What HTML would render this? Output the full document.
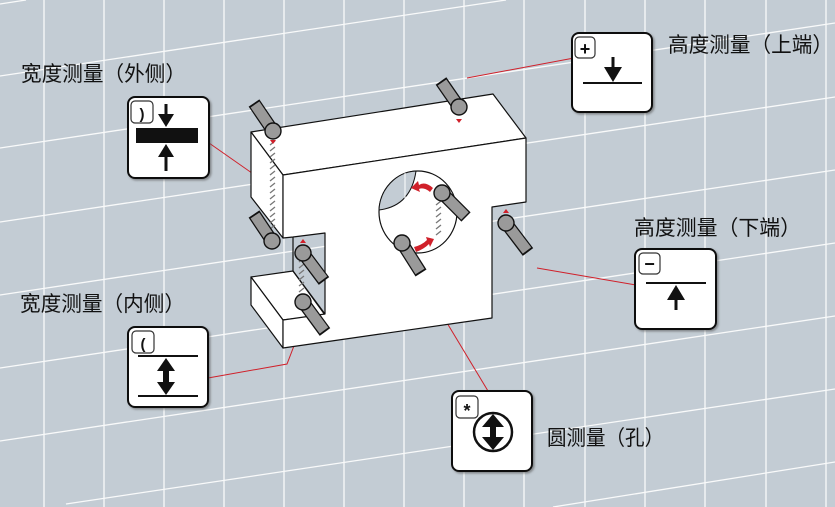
<!DOCTYPE html>
<html><head><meta charset="utf-8"><style>
html,body{margin:0;padding:0;background:#c3ccd4;width:835px;height:507px;overflow:hidden;position:relative;}
svg{display:block;position:absolute;left:0;top:0;overflow:hidden;width:835px;height:507px;}
text{font-family:"Liberation Sans","Noto Sans CJK SC",sans-serif;fill:#111;}
</style></head><body>
<svg width="835" height="507" viewBox="0 0 835 507" xmlns="http://www.w3.org/2000/svg">
<defs>
<filter id="sh" x="-5%" y="-5%" width="115%" height="115%"><feDropShadow dx="1.5" dy="1.5" stdDeviation="1" flood-color="#555" flood-opacity="0.6"/></filter>
</defs>
<rect width="835" height="507" fill="#c3ccd4"/>
<g stroke="#fff" stroke-width="1.3" opacity="0.9">
<line x1="44" y1="0" x2="44" y2="507"/><line x1="104" y1="0" x2="104" y2="507"/>
<line x1="164" y1="0" x2="164" y2="507"/><line x1="224" y1="0" x2="224" y2="507"/>
<line x1="284" y1="0" x2="284" y2="507"/><line x1="344" y1="0" x2="344" y2="507"/>
<line x1="404" y1="0" x2="404" y2="507"/><line x1="464" y1="0" x2="464" y2="507"/>
<line x1="524" y1="0" x2="524" y2="507"/><line x1="585" y1="0" x2="585" y2="507"/>
<line x1="645" y1="0" x2="645" y2="507"/><line x1="705" y1="0" x2="705" y2="507"/>
<line x1="766" y1="0" x2="766" y2="507"/><line x1="826" y1="0" x2="826" y2="507"/>
<line x1="0" y1="4" x2="26" y2="0"/><line x1="0" y1="76" x2="506" y2="0"/>
<line x1="0" y1="148" x2="835" y2="23"/><line x1="0" y1="222" x2="835" y2="97"/>
<line x1="0" y1="295" x2="835" y2="170"/><line x1="0" y1="368" x2="835" y2="243"/>
<line x1="0" y1="441" x2="835" y2="316"/><line x1="66" y1="504" x2="835" y2="389"/>
<line x1="553" y1="507" x2="835" y2="462"/>
</g>

<g stroke="#d0202a" stroke-width="1" fill="none">
<line x1="467" y1="78" x2="574" y2="58"/>
<line x1="209" y1="143" x2="259" y2="178"/>
<line x1="537" y1="268" x2="636" y2="285"/>
<polyline points="208,378 287,364 297,338"/>
<line x1="432" y1="298" x2="488" y2="391"/>
</g>

<g fill="#fff" stroke="#111" stroke-width="1.2" stroke-linejoin="round">
<polygon points="251,132 493,94 526,138 283,175"/>
<polygon points="251,132 283,175 283,238 251,197"/>
<polygon points="251,277 293,271 325,315 283,320"/>
<polygon points="251,277 283,320 283,348 251,305"/>
<polygon points="283,175 526,138 526,202 492,207 492,318 283,348 283,320 325,314 325,233 293,237 283,238"/>
<line x1="293" y1="237" x2="293" y2="271"/>
<line x1="293" y1="271" x2="325" y2="314"/>
</g>
<ellipse cx="418" cy="212" rx="39" ry="41" fill="#fff" stroke="#111" stroke-width="1.2"/>
<path d="M379,210 Q411,206 416,171 A39,41 0 0 0 379,210 Z" fill="#c3ccd4" stroke="#111" stroke-width="1"/>
<line x1="405" y1="173" x2="405" y2="200" stroke="#fff" stroke-width="1"/>

<g stroke="#777" stroke-width="1.3">
<path d="M270,145 l5,-4 M270,151 l5,-4 M270,157 l5,-4 M270,163 l5,-4 M270,169 l5,-4 M270,175 l5,-4 M270,181 l5,-4 M270,187 l5,-4 M270,193 l5,-4 M270,199 l5,-4 M270,205 l5,-4 M270,211 l5,-4 M270,217 l5,-4 M270,223 l5,-4 M270,229 l5,-4"/>
<path d="M299,262 l5,-4 M299,268 l5,-4 M299,274 l5,-4 M299,280 l5,-4 M299,286 l5,-4 M299,292 l5,-4 M299,298 l5,-4"/>
<path d="M436,205 l5,-4 M436,211 l5,-4 M436,217 l5,-4 M436,223 l5,-4 M436,229 l5,-4 M436,235 l5,-4"/>
</g>

<g fill="#d0202a">
<polygon points="270,140 276,140 273,144"/>
<polygon points="456,119 462,119 459,123"/>
<polygon points="270,237 276,237 273,233"/>
<polygon points="300,243 306,243 303,239"/>
<polygon points="300,310 306,310 303,306"/>
<polygon points="503,213 509,213 506,209"/>
<path d="M433,188 Q425,181 419,185 L418,181 L411,188 L420,192 L419,189 Q424,187 430,192 Z"/>
<path d="M414,247 Q422,245 427,240 L426,237 L434,239 L430,247 L429,244 Q424,249 416,252 Z"/>
</g>

<g>
<g stroke="#111" stroke-width="13" stroke-linecap="butt">
<line x1="273" y1="131" x2="254" y2="103"/><line x1="459" y1="107" x2="441" y2="81"/>
<line x1="272" y1="241" x2="254" y2="214"/><line x1="303" y1="253" x2="324" y2="281"/>
<line x1="303" y1="302" x2="325" y2="332"/><line x1="402" y1="243" x2="421" y2="273"/>
<line x1="442" y1="193" x2="466" y2="217"/><line x1="506" y1="223" x2="528" y2="252"/>
</g>
<g stroke="#9a9a9a" stroke-width="10.5" stroke-linecap="butt">
<line x1="273" y1="131" x2="255" y2="104.5"/><line x1="459" y1="107" x2="442" y2="82.5"/>
<line x1="272" y1="241" x2="255" y2="215.5"/><line x1="303" y1="253" x2="323" y2="279.5"/>
<line x1="303" y1="302" x2="324" y2="330.5"/><line x1="402" y1="243" x2="420" y2="271.5"/>
<line x1="442" y1="193" x2="465" y2="216"/><line x1="506" y1="223" x2="527" y2="250.5"/>
</g>
<g fill="#9a9a9a" stroke="#111" stroke-width="1.4">
<circle cx="273" cy="131" r="8"/><circle cx="459" cy="107" r="8"/>
<circle cx="272" cy="241" r="8"/><circle cx="303" cy="253" r="8"/>
<circle cx="303" cy="302" r="8"/><circle cx="402" cy="243" r="8"/>
<circle cx="442" cy="193" r="8"/><circle cx="506" cy="223" r="8"/>
</g>
</g>

<g fill="#fff" stroke="#111" stroke-width="2" filter="url(#sh)">
<rect x="128" y="97" width="81" height="81" rx="7"/>
<rect x="572" y="33" width="80" height="79" rx="7"/>
<rect x="635" y="249" width="81" height="80" rx="7"/>
<rect x="128" y="327" width="80" height="80" rx="7"/>
<rect x="452" y="391" width="80" height="80" rx="7"/>
</g>
<g fill="#fff" stroke="#333" stroke-width="1.2">
<rect x="131" y="101" width="22" height="22" rx="4"/>
<rect x="575" y="37" width="20" height="21" rx="4"/>
<rect x="639" y="253" width="21" height="21" rx="4"/>
<rect x="132" y="331" width="22" height="22" rx="4"/>
<rect x="456" y="396" width="22" height="22" rx="4"/>
</g>
<g font-family="Liberation Sans,sans-serif" font-weight="bold" fill="#111" text-anchor="middle">
<text x="142" y="119" font-size="15">)</text>
<text x="585" y="55" font-size="18">+</text>
<text x="649.5" y="270" font-size="18">−</text>
<text x="143" y="349" font-size="15">(</text>
<text x="467" y="417" font-size="18">*</text>
</g>
<g fill="#111" stroke="#111">
<rect x="136" y="128" width="62" height="15" stroke="none"/>
<line x1="166" y1="104" x2="166" y2="118" stroke-width="3"/>
<polygon points="158,114 174,114 166,127" stroke="none"/>
<line x1="166" y1="156" x2="166" y2="171" stroke-width="3"/>
<polygon points="158,157 174,157 166,144" stroke="none"/>
</g>
<g fill="#111" stroke="#111">
<line x1="583" y1="83" x2="642" y2="83" stroke-width="2"/>
<line x1="613" y1="57" x2="613" y2="70" stroke-width="3"/>
<polygon points="604,67 622,67 613,82" stroke="none"/>
</g>
<g fill="#111" stroke="#111">
<line x1="646" y1="283" x2="706" y2="283" stroke-width="2"/>
<polygon points="667,300 685,300 676,285" stroke="none"/>
<line x1="676" y1="298" x2="676" y2="310" stroke-width="3"/>
</g>
<g fill="#111" stroke="#111">
<line x1="138" y1="356" x2="198" y2="356" stroke-width="2"/>
<line x1="138" y1="396" x2="198" y2="396" stroke-width="2"/>
<polygon points="157,371 175,371 166,358" stroke="none"/>
<rect x="163" y="370" width="6" height="13" stroke="none"/>
<polygon points="157,382 175,382 166,395" stroke="none"/>
</g>
<g fill="#111" stroke="#111">
<circle cx="493" cy="432" r="19" fill="none" stroke-width="2.5"/>
<polygon points="482,427 504,427 493,414" stroke="none"/>
<rect x="490" y="426" width="6" height="12" stroke="none"/>
<polygon points="482,437 504,437 493,450" stroke="none"/>
</g>

<text x="21" y="81" font-size="21" textLength="165" lengthAdjust="spacingAndGlyphs">宽度测量（外侧）</text>
<text x="20" y="311" font-size="21" textLength="165" lengthAdjust="spacingAndGlyphs">宽度测量（内侧）</text>
<text x="668" y="52" font-size="21" textLength="165" lengthAdjust="spacingAndGlyphs">高度测量（上端）</text>
<text x="634" y="235" font-size="21" textLength="167" lengthAdjust="spacingAndGlyphs">高度测量（下端）</text>
<text x="547" y="445" font-size="21" textLength="117" lengthAdjust="spacingAndGlyphs">圆测量（孔）</text>
</svg>
</body></html>
